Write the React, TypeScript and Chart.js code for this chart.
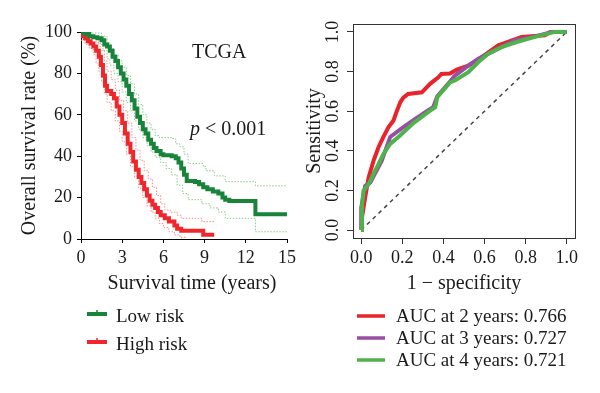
import React, { useEffect, useRef } from "react";
import { Chart, registerables } from "chart.js";
Chart.register(...registerables);

const FONT = "'Liberation Serif', 'Times New Roman', serif";
const TEXT = "#1a1a1a";

// ---------- Kaplan-Meier data (time in years, survival %) ----------
const kmXTicks = [0, 3, 6, 9, 12, 15];
const kmYTicks = [0, 20, 40, 60, 80, 100];

const lowRiskTime = [0, 0.3, 0.6, 0.9, 1.2, 1.5, 1.7, 1.9, 2.1, 2.3, 2.5, 2.7, 2.9, 3.1, 3.3, 3.5, 3.7, 3.9, 4.1, 4.3, 4.5, 4.7, 4.9, 5.1, 5.3, 5.5, 5.8, 6.0, 6.6, 6.9, 7.1, 7.3, 7.5, 7.7, 8.3, 8.6, 8.9, 9.2, 9.6, 10.0, 10.3, 10.5, 10.8, 12.7, 15];
const lowRiskSurv = [100, 99, 98, 97.5, 97, 96, 94, 93, 91, 88, 86, 83, 80, 77, 74, 70, 67, 63, 59, 56, 53, 51, 48, 46, 44, 42.5, 41, 40.5, 40, 39, 37, 34, 31, 28, 27.5, 26.5, 25, 24, 23, 22, 20, 19, 18.3, 12, 12];

const lowUpperTime = [0, 0.8, 1.5, 1.9, 2.1, 2.4, 2.7, 3.0, 3.3, 3.6, 3.9, 4.2, 4.5, 4.8, 5.1, 5.4, 5.7, 6.6, 6.9, 7.2, 7.5, 7.8, 8.9, 9.1, 9.7, 10.5, 12.7, 15];
const lowUpperSurv = [100, 99.5, 98, 95, 92, 89, 86, 83, 79, 75, 70, 65, 60, 56, 53, 50, 49, 48.5, 46, 44.5, 41, 36.5, 35, 33, 30.5, 27.7, 25.7, 25.7];

const lowLowerTime = [0, 0.8, 1.3, 1.6, 1.9, 2.1, 2.4, 2.7, 3.0, 3.3, 3.6, 3.9, 4.2, 4.5, 4.8, 5.1, 5.4, 5.8, 6.2, 6.6, 7.0, 7.4, 7.8, 8.8, 9.4, 10.0, 10.5, 12.7, 15];
const lowLowerSurv = [99, 97, 94, 91, 87, 84, 80, 76, 71, 66, 62, 57, 53, 49, 45, 42, 39.5, 37, 34, 31, 26, 22, 19, 17, 15, 13, 10, 3.5, 3.5];

const highRiskTime = [0, 0.1, 0.3, 0.5, 0.7, 0.9, 1.1, 1.3, 1.45, 1.6, 1.75, 1.9, 2.2, 2.4, 2.6, 2.8, 3.0, 3.2, 3.4, 3.6, 3.8, 4.0, 4.2, 4.4, 4.6, 4.8, 5.0, 5.2, 5.4, 5.6, 5.8, 6.1, 6.4, 6.8, 7.0, 7.3, 8.9, 9.7];
const highRiskSurv = [100, 98, 97, 95.5, 94.5, 93, 91, 88, 84, 79, 74, 71.5, 70, 68, 64, 60, 56, 51, 46, 42, 37.5, 33.5, 30, 27, 24, 21, 18.5, 16.5, 15, 13, 11.5, 10, 8.5, 6.5, 5, 4, 2, 2];

const highUpperTime = [0, 0.3, 0.7, 1.1, 1.4, 1.7, 1.9, 2.2, 2.5, 2.8, 3.1, 3.4, 3.7, 4.0, 4.3, 4.6, 4.9, 5.2, 5.5, 5.8, 6.1, 6.5, 7.0, 7.3, 8.8, 9.7];
const highUpperSurv = [100, 99, 97, 95, 91, 86, 81, 77, 72, 67, 62, 56, 49, 43, 38, 33, 29, 25, 21, 17, 14, 13, 11.5, 10, 8.4, 8.4];

const highLowerTime = [0, 0.3, 0.6, 0.9, 1.1, 1.3, 1.5, 1.7, 1.9, 2.2, 2.5, 2.8, 3.0, 3.3, 3.6, 3.9, 4.2, 4.5, 4.8, 5.1, 5.4, 5.7, 6.0, 6.4, 6.8, 7.2, 7.6];
const highLowerSurv = [96, 94, 92, 89, 85, 81, 76, 70, 66, 62, 57, 52, 47, 41, 35, 30, 24.5, 20, 16, 13, 10, 7.5, 5.5, 3.5, 2, 0.8, 0];

const kmLegendLabels = ["Low risk", "High risk"];

// ---------- ROC data (1 - specificity, sensitivity) ----------
const rocTicks = [0, 0.2, 0.4, 0.6, 0.8, 1.0];

const roc2Fpr = [0, 0.003, 0.019, 0.036, 0.06, 0.084, 0.108, 0.133, 0.157, 0.173, 0.19, 0.205, 0.228, 0.295, 0.335, 0.374, 0.39, 0.432, 0.465, 0.521, 0.586, 0.667, 0.78, 0.893, 0.92, 1];
const roc2Tpr = [0, 0.06, 0.164, 0.265, 0.35, 0.418, 0.47, 0.52, 0.553, 0.6, 0.645, 0.668, 0.687, 0.695, 0.738, 0.77, 0.788, 0.79, 0.81, 0.83, 0.873, 0.932, 0.975, 0.983, 1.0, 1.0];

const roc3Fpr = [0, 0, 0.019, 0.044, 0.1, 0.141, 0.205, 0.254, 0.319, 0.35, 0.37, 0.432, 0.456, 0.521, 0.57, 0.634, 0.748, 0.84, 0.926, 1];
const roc3Tpr = [0, 0.113, 0.223, 0.24, 0.35, 0.47, 0.52, 0.555, 0.6, 0.62, 0.675, 0.75, 0.78, 0.83, 0.865, 0.898, 0.958, 0.975, 1.0, 1.0];

const roc4Fpr = [0, 0.003, 0.004, 0.011, 0.036, 0.06, 0.084, 0.108, 0.141, 0.189, 0.254, 0.319, 0.345, 0.36, 0.37, 0.432, 0.456, 0.521, 0.57, 0.618, 0.683, 0.756, 0.845, 0.942, 1];
const roc4Tpr = [0, 0.01, 0.13, 0.198, 0.232, 0.283, 0.333, 0.384, 0.435, 0.477, 0.54, 0.59, 0.61, 0.62, 0.67, 0.745, 0.755, 0.797, 0.848, 0.89, 0.924, 0.949, 0.975, 1.0, 1.0];

const diagX = [0, 1];
const diagY = [0, 1];

const rocLegendLabels = ["AUC at 2 years: 0.766", "AUC at 3 years: 0.727", "AUC at 4 years: 0.721"];

const COL = {
  kmGreen: "#17843a",
  kmRed: "#f0262a",
  ciGreen: "#8ccb8c",
  ciRed: "#ff8c8c",
  rocRed: "#e8232b",
  rocPurple: "#984ea3",
  rocGreen: "#4db34a",
};

const zip = (xs: number[], ys: number[]) => xs.map((x, i) => ({ x, y: ys[i] }));

const kmAnnotations = {
  id: "kmAnnotations",
  afterDraw(chart: any) {
    const ctx = chart.ctx;
    ctx.save();
    ctx.fillStyle = TEXT;
    ctx.textBaseline = "alphabetic";
    ctx.textAlign = "left";
    ctx.font = `20px ${FONT}`;
    ctx.fillText("TCGA", 192, 58);
    ctx.font = `italic 20px ${FONT}`;
    ctx.fillText("p", 190, 135);
    const pw = ctx.measureText("p").width;
    ctx.font = `20px ${FONT}`;
    ctx.fillText(" < 0.001", 190 + pw, 135);
    ctx.textAlign = "center";
    ctx.textBaseline = "middle";
    ctx.fillText("Survival time (years)", 192, 284);
    // legend
    const items = [
      { label: kmLegendLabels[0], color: chart.data.datasets[0].borderColor, y: 314 },
      { label: kmLegendLabels[1], color: chart.data.datasets[1].borderColor, y: 342 },
    ];
    ctx.textAlign = "left";
    ctx.textBaseline = "alphabetic";
    ctx.font = `19px ${FONT}`;
    items.forEach((it) => {
      ctx.strokeStyle = it.color;
      ctx.lineWidth = 4;
      ctx.beginPath();
      ctx.moveTo(87, it.y);
      ctx.lineTo(107, it.y);
      ctx.stroke();
      ctx.lineWidth = 1.5;
      ctx.beginPath();
      ctx.moveTo(97, it.y);
      ctx.lineTo(97, it.y - 4);
      ctx.stroke();
      ctx.fillStyle = TEXT;
      ctx.fillText(it.label, 116, it.y + 8);
    });
    ctx.restore();
  },
};

const rocAnnotations = {
  id: "rocAnnotations",
  afterDraw(chart: any) {
    const ctx = chart.ctx;
    const a = chart.chartArea;
    ctx.save();
    ctx.strokeStyle = "#333";
    ctx.lineWidth = 1;
    ctx.strokeRect(Math.round(a.left) + 0.5, Math.round(a.top) + 0.5, Math.round(a.right - a.left), Math.round(a.bottom - a.top));
    const ys = [316, 338, 360];
    const colors = [COL.rocRed, COL.rocPurple, COL.rocGreen];
    ctx.font = `19px ${FONT}`;
    ctx.textAlign = "left";
    ctx.textBaseline = "alphabetic";
    rocLegendLabels.forEach((lab, i) => {
      ctx.strokeStyle = colors[i];
      ctx.lineWidth = 3.5;
      ctx.beginPath();
      ctx.moveTo(57, ys[i]);
      ctx.lineTo(85, ys[i]);
      ctx.stroke();
      ctx.fillStyle = TEXT;
      ctx.fillText(lab, 96, ys[i] + 6);
    });
    ctx.restore();
  },
};

export default function App() {
  const leftRef = useRef<HTMLCanvasElement>(null);
  const rightRef = useRef<HTMLCanvasElement>(null);

  useEffect(() => {
    const tickFont = { family: FONT, size: 18 };
    const left = new Chart(leftRef.current as HTMLCanvasElement, {
      type: "line",
      data: {
        datasets: [
          { data: zip(lowRiskTime, lowRiskSurv), borderColor: COL.kmGreen, borderWidth: 4, stepped: true, pointRadius: 0 },
          { data: zip(highRiskTime, highRiskSurv), borderColor: COL.kmRed, borderWidth: 4, stepped: true, pointRadius: 0 },
          { data: zip(lowUpperTime, lowUpperSurv), borderColor: COL.ciGreen, borderWidth: 1, borderDash: [1.5, 1.5], stepped: true, pointRadius: 0 },
          { data: zip(lowLowerTime, lowLowerSurv), borderColor: COL.ciGreen, borderWidth: 1, borderDash: [1.5, 1.5], stepped: true, pointRadius: 0 },
          { data: zip(highUpperTime, highUpperSurv), borderColor: COL.ciRed, borderWidth: 1, borderDash: [1.5, 1.5], stepped: true, pointRadius: 0 },
          { data: zip(highLowerTime, highLowerSurv), borderColor: COL.ciRed, borderWidth: 1, borderDash: [1.5, 1.5], stepped: true, pointRadius: 0 },
        ],
      },
      options: {
        responsive: false,
        animation: false,
        devicePixelRatio: 1,
        layout: { padding: { left: 0, right: 10, top: 32, bottom: 94 } },
        plugins: { legend: { display: false }, tooltip: { enabled: false } },
        scales: {
          x: {
            type: "linear",
            min: 0,
            max: 15,
            afterBuildTicks: (s: any) => { s.ticks = kmXTicks.map((v) => ({ value: v })); },
            afterFit: (s: any) => { s.height = 60; },
            grid: { display: true, drawOnChartArea: false, drawTicks: true, tickLength: 4, color: "#000" },
            border: { display: true, color: "#000", width: 1 },
            ticks: { font: tickFont, color: TEXT, padding: 4, maxRotation: 0, autoSkip: false },
          },
          y: {
            type: "linear",
            min: 0,
            max: 100,
            afterBuildTicks: (s: any) => { s.ticks = kmYTicks.map((v) => ({ value: v })); },
            afterFit: (s: any) => { s.width = 81; },
            grid: { display: true, drawOnChartArea: false, drawTicks: true, tickLength: 4, color: "#000" },
            border: { display: true, color: "#000", width: 1 },
            ticks: { font: tickFont, color: TEXT, padding: 5, autoSkip: false },
            title: { display: true, text: "Overall survival rate (%)", font: { family: FONT, size: 20 }, color: TEXT, padding: { top: 18, bottom: 0 } },
          },
        },
      },
      plugins: [kmAnnotations],
    } as any);

    const right = new Chart(rightRef.current as HTMLCanvasElement, {
      type: "line",
      data: {
        datasets: [
          { data: zip(roc4Fpr, roc4Tpr), borderColor: COL.rocGreen, borderWidth: 4, pointRadius: 0, tension: 0 },
          { data: zip(roc3Fpr, roc3Tpr), borderColor: COL.rocPurple, borderWidth: 4, pointRadius: 0, tension: 0 },
          { data: zip(roc2Fpr, roc2Tpr), borderColor: COL.rocRed, borderWidth: 4, pointRadius: 0, tension: 0 },
          { data: zip(diagX, diagY), borderColor: "#444", borderWidth: 1.5, borderDash: [4, 4], pointRadius: 0 },
        ],
      },
      options: {
        responsive: false,
        animation: false,
        devicePixelRatio: 1,
        layout: { padding: { left: 0, right: 25, top: 24, bottom: 95 } },
        plugins: { legend: { display: false }, tooltip: { enabled: false } },
        scales: {
          x: {
            type: "linear",
            min: -0.04,
            max: 1.04,
            afterBuildTicks: (s: any) => { s.ticks = rocTicks.map((v) => ({ value: v })); },
            afterFit: (s: any) => { s.height = 60; },
            grid: { display: true, drawOnChartArea: false, drawTicks: true, tickLength: 6, color: "#333" },
            border: { display: false },
            ticks: { font: tickFont, color: TEXT, padding: 3, maxRotation: 0, autoSkip: false, callback: (v: any) => Number(v).toFixed(1) },
            title: { display: true, text: "1 \u2212 specificity", font: { family: FONT, size: 20 }, color: TEXT, padding: { top: 0, bottom: 2 } },
          },
          y: {
            type: "linear",
            min: -0.04,
            max: 1.04,
            afterBuildTicks: (s: any) => { s.ticks = rocTicks.map((v) => ({ value: v })); },
            afterFit: (s: any) => { s.width = 53; },
            grid: { display: true, drawOnChartArea: false, drawTicks: true, tickLength: 6, color: "#333" },
            border: { display: false },
            ticks: { font: tickFont, color: TEXT, padding: 2, minRotation: 90, maxRotation: 90, crossAlign: "center", autoSkip: false, callback: (v: any) => Number(v).toFixed(1) },
            title: { display: true, text: "Sensitivity", font: { family: FONT, size: 20 }, color: TEXT, padding: { top: 3, bottom: 0 } },
          },
        },
      },
      plugins: [rocAnnotations],
    } as any);

    return () => {
      left.destroy();
      right.destroy();
    };
  }, []);

  return (
    <div style={{ position: "absolute", left: 0, top: 0, width: 600, height: 393, background: "#fff" }}>
      <canvas ref={leftRef} width={300} height={393} style={{ position: "absolute", left: 0, top: 0 }} />
      <canvas ref={rightRef} width={300} height={393} style={{ position: "absolute", left: 300, top: 0 }} />
    </div>
  );
}
